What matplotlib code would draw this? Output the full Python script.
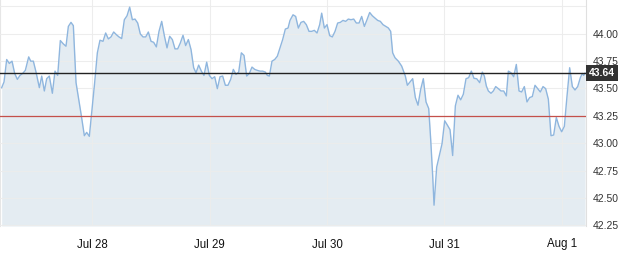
import matplotlib
matplotlib.use("Agg")
import matplotlib.pyplot as plt
import matplotlib.transforms as mtransforms

# hours since Jul 27 00:00
hours = [5.46, 5.94, 6.49, 7.03, 7.58, 8.12, 8.67, 9.21, 9.76, 10.30, 10.99, 11.40, 11.94, 12.49,
         13.17, 13.65, 14.19, 14.67, 15.21, 15.83, 16.37, 16.92, 17.46, 18.08, 18.62, 19.10, 19.64,
         20.12, 20.67, 21.21, 21.76, 22.37, 22.85, 23.39, 23.94, 24.48, 25.03, 25.57, 26.19, 26.73,
         27.28, 27.82, 28.37, 28.91, 29.46, 30.01, 30.55, 31.10, 31.64, 32.19, 32.73, 33.28, 33.82,
         34.37, 34.92, 35.46, 36.01, 36.55, 37.10, 37.64, 38.19, 38.73, 39.28, 39.82, 40.37, 40.91,
         41.46, 42.00, 42.55, 43.09, 43.64, 44.19, 44.73, 45.21, 45.75, 46.30, 46.84, 47.39, 47.94,
         48.48, 49.03, 49.57, 50.12, 50.66, 51.21, 51.75, 52.30, 52.84, 53.39, 53.94, 54.48, 55.03,
         55.57, 56.12, 56.66, 57.21, 57.75, 58.30, 58.84, 59.39, 59.80, 60.21, 60.75, 61.30, 61.84,
         62.39, 62.93, 63.48, 64.03, 64.43, 65.05, 65.59, 66.14, 66.68, 67.23, 67.77, 68.32, 68.87,
         69.41, 69.96, 70.50, 70.91, 71.46, 72.00, 72.55, 73.09, 73.64, 74.18, 74.73, 75.27, 75.82,
         76.36, 76.91, 77.46, 78.00, 78.55, 79.09, 79.64, 80.18, 80.73, 81.27, 81.82, 82.36, 82.91,
         83.45, 84.54, 85.02, 85.43, 85.91, 86.59, 87.27, 88.02, 88.43, 88.98, 89.52, 90.07, 90.61,
         91.16, 91.70, 92.25, 92.80, 93.20, 93.61, 93.89, 94.43, 94.98, 95.52, 96.07, 96.61, 97.16,
         97.70, 98.25, 98.79, 99.34, 99.88, 100.43, 100.97, 101.52, 102.06, 102.61, 103.22, 103.77,
         104.18, 104.59, 105.00, 105.54, 106.02, 106.50, 107.04, 107.59, 108.14, 108.68, 109.09,
         109.63, 110.18, 110.72, 111.27, 111.81, 112.36, 112.90, 113.45, 113.99, 114.54, 115.09,
         115.63, 116.18, 116.72, 117.27, 117.81, 118.36, 118.90, 119.45, 119.99, 120.54, 121.09,
         121.63, 122.18, 122.72, 123.27, 123.81, 124.22, 124.50, 124.77]

prices = [43.507, 43.559, 43.764, 43.728, 43.749, 43.637, 43.583, 43.619, 43.637, 43.665, 43.788,
          43.749, 43.749, 43.649, 43.507, 43.613, 43.477, 43.589, 43.613, 43.456, 43.658, 43.619,
          43.937, 43.906, 43.885, 44.066, 44.103, 44.073, 43.553, 43.402, 43.250, 43.069, 43.099,
          43.063, 43.311, 43.553, 43.825, 43.940, 43.930, 44.006, 43.952, 43.970, 44.015, 43.991,
          43.970, 43.955, 44.127, 44.163, 44.242, 44.127, 44.133, 44.097, 43.997, 43.970, 43.970,
          44.015, 43.930, 43.921, 43.879, 44.021, 44.112, 43.982, 43.870, 43.976, 43.946, 43.861,
          43.861, 43.915, 43.985, 43.891, 43.946, 43.855, 43.689, 43.643, 43.713, 43.658, 43.619,
          43.740, 43.619, 43.589, 43.607, 43.498, 43.607, 43.613, 43.529, 43.529, 43.583, 43.674,
          43.628, 43.649, 43.825, 43.801, 43.613, 43.637, 43.695, 43.674, 43.665, 43.658, 43.658,
          43.649, 43.619, 43.613, 43.749, 43.764, 43.794, 43.870, 43.946, 44.042, 44.051, 44.121,
          44.172, 44.157, 44.051, 44.103, 44.112, 44.082, 44.021, 44.021, 44.030, 44.006, 44.082,
          44.187, 44.051, 44.082, 43.982, 43.970, 44.021, 44.097, 44.103, 44.121, 44.112, 44.133,
          44.127, 44.133, 44.097, 44.097, 44.157, 44.066, 44.127, 44.193, 44.163, 44.142, 44.121,
          44.112, 44.082, 44.052, 44.021, 43.825, 43.780, 43.749, 43.704, 43.613, 43.529, 43.559,
          43.589, 43.417, 43.347, 43.492, 43.589, 43.377, 43.317, 43.039, 42.707, 42.435, 42.782,
          42.888, 42.994, 43.205, 43.166, 43.124, 42.888, 43.341, 43.438, 43.396, 43.447, 43.589,
          43.598, 43.658, 43.592, 43.589, 43.553, 43.649, 43.613, 43.522, 43.477, 43.456, 43.477,
          43.517, 43.498, 43.477, 43.477, 43.432, 43.658, 43.643, 43.607, 43.719, 43.477, 43.468,
          43.517, 43.377, 43.417, 43.426, 43.529, 43.498, 43.468, 43.517, 43.498, 43.402, 43.069,
          43.075, 43.235, 43.154, 43.105, 43.154, 43.432, 43.689, 43.517, 43.486, 43.517, 43.598,
          43.637, 43.619, 43.640]

last_price = 43.64
prev_close = 43.245
x_tick_hours = [24, 48, 72, 96, 120]
x_tick_labels = ["Jul 28", "Jul 29", "Jul 30", "Jul 31", "Aug 1"]
y_ticks = [42.25, 42.50, 42.75, 43.00, 43.25, 43.50, 43.75, 44.00, 44.25]
y_tick_labels = ["42.25", "42.50", "42.75", "43.00", "43.25", "43.50", "43.75", "44.00", ""]

plt.rcParams["font.family"] = ["Liberation Sans", "DejaVu Sans"]

W, H = 626, 258
fig = plt.figure(figsize=(W / 100, H / 100), dpi=100)
ax = fig.add_axes([0, 1 - 226 / H, 586 / W, 226 / H])

y_lo, y_hi = 42.245, 44.307
ax.set_xlim(5.12, 124.97)
ax.set_ylim(y_lo, y_hi)

ax.fill_between(hours, prices, y_lo, color="#e4ecf2", lw=0, zorder=1)
ax.plot(hours, prices, color="#8fb6de", lw=1.0, zorder=3)

ax.set_yticks(y_ticks)
ax.set_yticklabels(y_tick_labels)
ax.set_xticks(x_tick_hours)
ax.set_xticklabels(x_tick_labels)
ax.yaxis.tick_right()
ax.tick_params(axis="y", length=0, pad=5, labelsize=7.5, labelcolor="#333333")
ax.tick_params(axis="x", length=0, pad=9, labelsize=8.3, labelcolor="#111111")
ax.grid(True, color="#ececec", lw=0.8, zorder=2)
ax.set_axisbelow(False)
for gl in ax.get_xgridlines() + ax.get_ygridlines():
    gl.set_zorder(2)
    gl.set_alpha(0.9)

for s in ["top", "bottom"]:
    ax.spines[s].set_visible(False)
ax.spines["left"].set_color("#e6e6e6")
ax.spines["right"].set_color("#e0e0e0")
ax.spines["left"].set_linewidth(0.8)
ax.spines["right"].set_linewidth(0.8)

ax.axhline(prev_close, color="#c4504b", lw=0.9, zorder=4)
ax.axhline(last_price, color="#222222", lw=1.0, zorder=4)

trans = mtransforms.blended_transform_factory(ax.transAxes, ax.transData)
ax.text(1.0 + 3 / 586, last_price, f"{last_price:.2f}", transform=trans, ha="left", va="center",
        fontsize=7.5, fontweight="bold", color="white", zorder=6, clip_on=False,
        bbox=dict(boxstyle="square,pad=0.28", fc="#333333", ec="none"))

fig.savefig("out.png", dpi=100)
